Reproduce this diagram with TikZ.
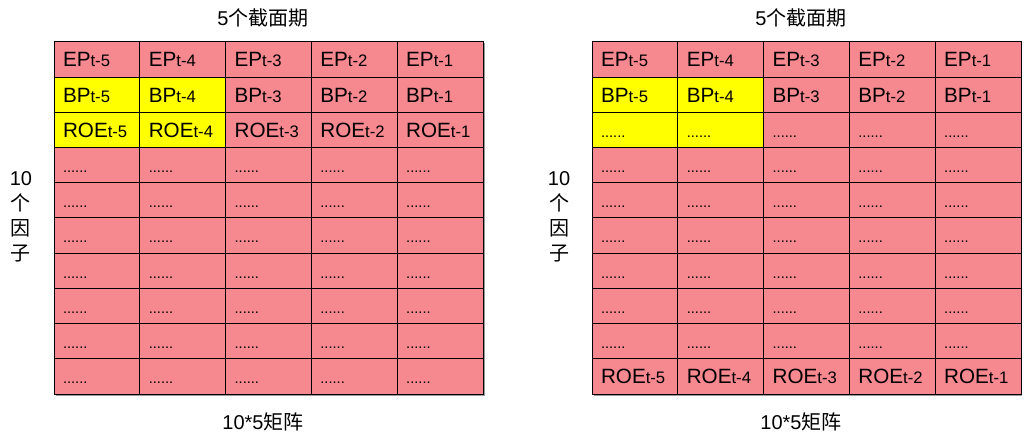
\documentclass[tikz,border=0pt]{standalone}
\usepackage{fontspec}
\setmainfont{Liberation Sans}
\newfontfamily\cjk{Noto Sans CJK SC}
\usepackage{xcolor}
\definecolor{l_pink}{HTML}{F6888F}
\definecolor{l_yellow}{HTML}{FFFF00}
\definecolor{d_shadow}{HTML}{9A9A9A}
\newcommand{\tsub}[1]{{\fontsize{12.5}{14}\selectfont #1}}
\newcommand{\celldots}{{\fontsize{11}{12}\selectfont ......}}

\begin{document}
\begin{tikzpicture}[x=0.75pt,y=-0.75pt,
  cell/.style={draw=black, line width=0.75pt, fill=l_pink, minimum height=26.4pt,
    inner ysep=0pt, inner xsep=6.75pt, text width=50.85pt, align=left,
    text height=11.1pt, text depth=0pt, font=\fontsize{15.5}{18}\selectfont},
  hot/.style={cell, fill=l_yellow},
  lbl/.style={font=\fontsize{15}{18.75}\selectfont, inner sep=0pt}]
\useasboundingbox (0,0) rectangle (1024,434);

% shadows
\fill[d_shadow] (55.5,43.5) rectangle (485,396);
\fill[d_shadow] (593.5,43.5) rectangle (1022,396);

% left matrix
\foreach \c in {1,...,5}{
  \pgfmathtruncatemacro\t{6-\c}
  \pgfmathsetmacro\x{54+85.8*(\c-0.5)}
  \ifnum\c<3 \def\st{hot}\else\def\st{cell}\fi
  \draw (\x,59.6) node[cell] (L-1-\c) {EP\tsub{t-\t}};
  \draw (\x,94.8) node[\st] (L-2-\c) {BP\tsub{t-\t}};
  \draw (\x,130) node[\st] (L-3-\c) {ROE\tsub{t-\t}};
  \foreach \r in {4,...,10}{
    \pgfmathsetmacro\y{42+35.2*(\r-0.5)}
    \draw (\x,\y) node[cell] (L-\r-\c) {\celldots};
  }
}

% right matrix
\foreach \c in {1,...,5}{
  \pgfmathtruncatemacro\t{6-\c}
  \pgfmathsetmacro\x{592+85.8*(\c-0.5)}
  \ifnum\c<3 \def\st{hot}\else\def\st{cell}\fi
  \draw (\x,59.6) node[cell] (R-1-\c) {EP\tsub{t-\t}};
  \draw (\x,94.8) node[\st] (R-2-\c) {BP\tsub{t-\t}};
  \draw (\x,130) node[\st] (R-3-\c) {\celldots};
  \foreach \r in {4,...,9}{
    \pgfmathsetmacro\y{42+35.2*(\r-0.5)}
    \draw (\x,\y) node[cell] (R-\r-\c) {\celldots};
  }
  \draw (\x,376.4) node[cell] (R-10-\c) {ROE\tsub{t-\t}};
}

% labels
\draw (263,18) node[lbl] (L-top) {5{\cjk 个截面期}};
\draw (263,422) node[lbl] (L-bot) {10*5{\cjk 矩阵}};
\draw (21,217) node[lbl, align=center] (L-side) {10\\{\cjk 个}\\{\cjk 因}\\{\cjk 子}};

\draw (801,18) node[lbl] (R-top) {5{\cjk 个截面期}};
\draw (801,422) node[lbl] (R-bot) {10*5{\cjk 矩阵}};
\draw (559,217) node[lbl, align=center] (R-side) {10\\{\cjk 个}\\{\cjk 因}\\{\cjk 子}};

\end{tikzpicture}
\end{document}
